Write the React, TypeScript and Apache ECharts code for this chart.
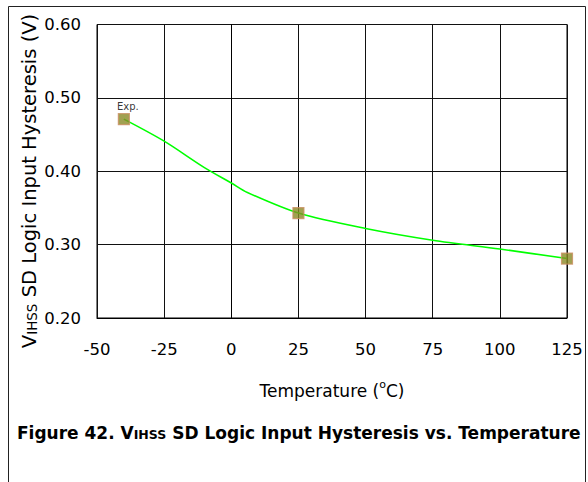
import React, { useEffect, useRef } from "react";
import * as echarts from "echarts";

const xTicks = [-50, -25, 0, 25, 50, 75, 100, 125];
const yTicks = [0.2, 0.3, 0.4, 0.5, 0.6];
const curveTemps = [-40, -25, -10, 0, 6, 25, 50, 75, 100, 125];
const curveValues = [0.471, 0.441, 0.405, 0.384, 0.371, 0.343, 0.322, 0.306, 0.294, 0.281];
const measuredTemps = [-40, 25, 125];
const measuredValues = [0.471, 0.343, 0.281];
const measuredLabel = "Exp.";

const FONT = "DejaVu Sans, Liberation Sans, sans-serif";

export default function App() {
  const ref = useRef<HTMLDivElement>(null);
  useEffect(() => {
    if (!ref.current) return;
    const chart = echarts.init(ref.current, undefined, { renderer: "svg" });
    const option = {
      animation: false,
      backgroundColor: "#fff",
      textStyle: { fontFamily: FONT },
      grid: {
        left: 97,
        top: 24.5,
        right: 21,
        bottom: 164,
        show: true,
        borderColor: "#000",
        borderWidth: 1,
      },
      xAxis: {
        type: "value",
        min: xTicks[0],
        max: xTicks[xTicks.length - 1],
        interval: 25,
        axisLine: { show: true, lineStyle: { color: "#000", width: 1 } },
        axisTick: { show: false },
        splitLine: { show: true, lineStyle: { color: "#111", width: 1 } },
        axisLabel: {
          color: "#000",
          fontSize: 16.5,
          fontFamily: FONT,
          margin: 23,
          formatter: (v: number) => String(v),
        },
      },
      yAxis: {
        type: "value",
        min: yTicks[0],
        max: yTicks[yTicks.length - 1],
        interval: 0.1,
        axisLine: { show: true, lineStyle: { color: "#000", width: 1 } },
        axisTick: { show: false },
        splitLine: { show: true, lineStyle: { color: "#111", width: 1 } },
        axisLabel: {
          color: "#000",
          fontSize: 16.5,
          fontFamily: FONT,
          margin: 16,
          formatter: (v: number) => v.toFixed(2),
        },
      },
      series: [
        {
          type: "line",
          data: curveTemps.map((t, i) => [t, curveValues[i]]),
          smooth: 0.3,
          showSymbol: false,
          symbol: "none",
          lineStyle: { color: "#00ff00", width: 1.6 },
          z: 2,
        },
        {
          type: "scatter",
          data: measuredTemps.map((t, i) =>
            i === 0
              ? {
                  value: [t, measuredValues[i]],
                  label: {
                    show: true,
                    formatter: measuredLabel,
                    position: "top",
                    distance: 2,
                    offset: [4, 0],
                    color: "#000",
                    fontSize: 10,
                    fontFamily: FONT,
                  },
                }
              : { value: [t, measuredValues[i]] }
          ),
          symbol: "rect",
          symbolSize: 11,
          itemStyle: { color: "#8a8a26", borderColor: "#c98f60", borderWidth: 1.2 },
          z: 3,
        },
      ],
      graphic: [
        {
          type: "rect",
          shape: { x: 8.5, y: 6.5, width: 577, height: 520 },
          style: { fill: "none", stroke: "#222", lineWidth: 1 },
          silent: true,
          z: -1,
        },
        {
          type: "text",
          x: 28,
          y: 181,
          rotation: Math.PI / 2,
          style: {
            text: "{v|V}{s|IHSS}{v| SD Logic Input Hysteresis (V)}",
            align: "center",
            verticalAlign: "middle",
            fill: "#000",
            rich: {
              v: { fontSize: 19.5, fontFamily: FONT, fill: "#000", lineHeight: 22, verticalAlign: "bottom" },
              s: { fontSize: 13.5, fontFamily: FONT, fill: "#000", lineHeight: 18, verticalAlign: "bottom" },
            },
          },
        },
        {
          type: "text",
          x: 332,
          y: 389,
          style: {
            text: "{t|Temperature (}{o|o}{t|C)}",
            align: "center",
            verticalAlign: "middle",
            fill: "#000",
            rich: {
              t: { fontSize: 17, fontFamily: FONT, fill: "#000", lineHeight: 20, verticalAlign: "bottom" },
              o: { fontSize: 11, fontFamily: FONT, fill: "#000", lineHeight: 14, verticalAlign: "top" },
            },
          },
        },
        {
          type: "text",
          x: 17,
          y: 431,
          style: {
            text: "{b|Figure 42. V}{s|IHSS}{b| SD Logic Input Hysteresis vs. Temperature}",
            align: "left",
            verticalAlign: "middle",
            fill: "#000",
            rich: {
              b: { fontSize: 17, fontWeight: "bold", fontFamily: FONT, fill: "#000", lineHeight: 20, verticalAlign: "bottom" },
              s: { fontSize: 12.5, fontWeight: "bold", fontFamily: FONT, fill: "#000", lineHeight: 14, verticalAlign: "bottom" },
            },
          },
        },
      ],
    };
    chart.setOption(option as any);
    return () => chart.dispose();
  }, []);
  return (
    <div
      ref={ref}
      style={{ position: "absolute", left: 0, top: 0, width: 588, height: 482 }}
    />
  );
}
